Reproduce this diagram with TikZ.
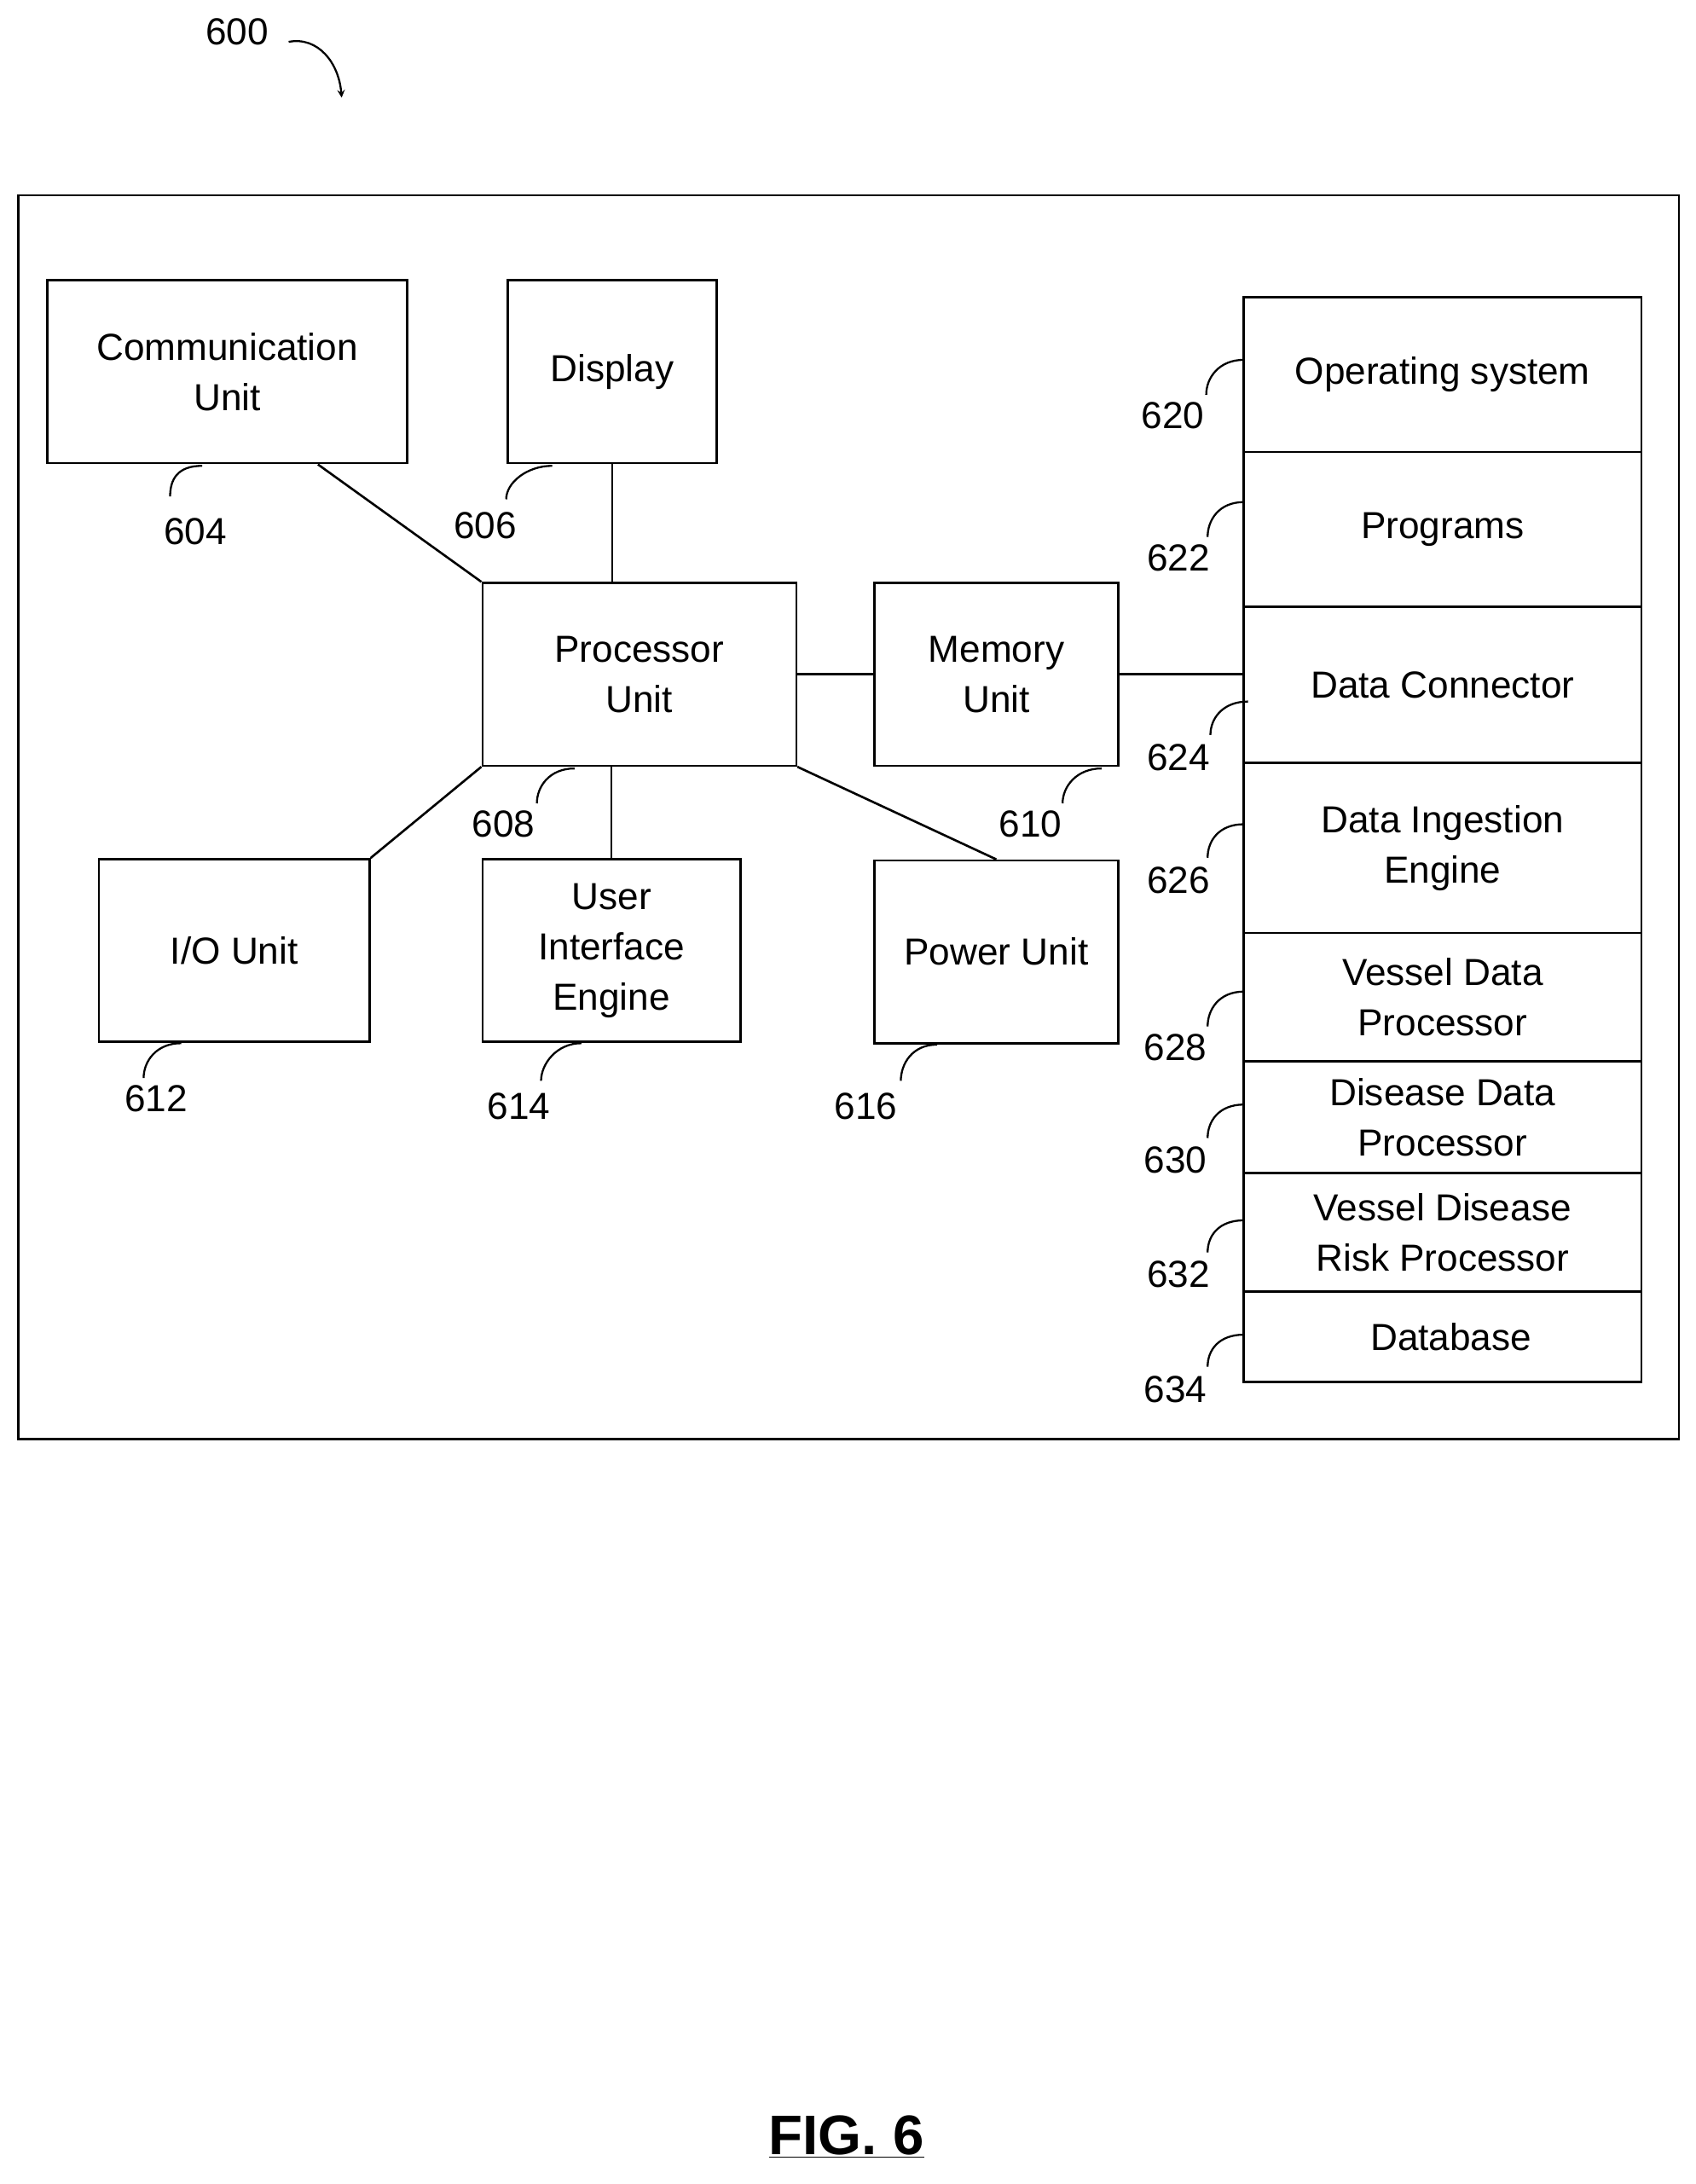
\documentclass[tikz,border=0pt]{standalone}
\usepackage{fontspec}
\setmainfont{Liberation Sans}
\usetikzlibrary{calc}
\begin{document}
\fontsize{27}{36}\selectfont
\begin{tikzpicture}[x=1pt,y=-1pt,
 box/.style={draw,line width=1.6pt,align=center,inner sep=0pt,font=\fontsize{27}{36}\selectfont},
 lab/.style={font=\fontsize{27}{32}\selectfont},
 ln/.style={line width=1.6pt},
 lead/.style={line width=1.4pt}]
\useasboundingbox (0,0) rectangle (1216,1566);
\node[draw,line width=1.6pt,minimum width=1191pt,minimum height=892pt,inner sep=0pt] (frame) at (608.5,586) {};
\node[box,minimum width=258pt,minimum height=131pt] (comm) at (163,266.5) {Communication\\Unit};
\node[box,minimum width=150pt,minimum height=131pt] (disp) at (439,266.5) {Display};
\node[box,minimum width=225pt,minimum height=131pt] (proc) at (458.5,483.5) {Processor\\Unit};
\node[box,minimum width=175pt,minimum height=131pt] (mem) at (714.5,483.5) {Memory\\Unit};
\node[box,minimum width=194pt,minimum height=131pt] (io) at (168,681.5) {I/O Unit};
\node[box,minimum width=185pt,minimum height=131pt] (ui) at (438.5,681.5) {User\\Interface\\Engine};
\node[box,minimum width=175pt,minimum height=131pt] (pow) at (714.5,682.5) {Power Unit};
\node[box,minimum width=285pt,minimum height=111pt] (s1) at (1034.5,268.5) {Operating system};
\node[box,minimum width=285pt,minimum height=111pt] (s2) at (1034.5,379.5) {Programs};
\node[box,minimum width=285pt,minimum height=112pt] (s3) at (1034.5,491) {Data Connector};
\node[box,minimum width=285pt,minimum height=122pt] (s4) at (1034.5,608) {Data Ingestion\\Engine};
\node[box,minimum width=285pt,minimum height=92pt] (s5) at (1034.5,715) {Vessel Data\\Processor};
\node[box,minimum width=285pt,minimum height=80pt] (s6) at (1034.5,801) {Disease Data\\Processor};
\node[box,minimum width=285pt,minimum height=85pt] (s7) at (1034.5,883.5) {Vessel Disease\\Risk Processor};
\node[box,minimum width=285pt,minimum height=65pt] (s8) at (1034.5,958.5) {\hspace*{12pt}Database};
\coordinate (c1) at (228,333);
\draw[ln] (c1) -- (proc.north west);
\draw[ln] (disp.south) -- (disp.south |- proc.north);
\draw[ln] (proc.east) -- (mem.west);
\draw[ln] (mem.east) -- (mem.east -| s3.west);
\draw[ln] (proc.south west) -- (io.north east);
\draw[ln] (ui.north |- proc.south) -- (ui.north);
\draw[ln] (proc.south east) -- (pow.north);
% labels
\newcommand\lbl[5]{\node[lab] (#1) at (#2) {#3};
 \draw[lead] (#4) .. controls ($(#4)+(-18,0)$) and ($(#5)+(0,-12)$) .. (#5);}
\lbl{l604}{140,381}{604}{145,334}{122,356}
\lbl{l606}{348,377}{606}{396,334}{363,358}
\lbl{l608}{361,591}{608}{412,551}{385,576}
\lbl{l610}{739,591}{610}{790,551}{762,576}
\lbl{l612}{112,788}{612}{130,748}{103,773}
\lbl{l614}{372,793}{614}{417,748}{388,775}
\lbl{l616}{621,793}{616}{672,749}{646,775}
\lbl{l620}{841,298}{620}{892,258}{865,283}
\lbl{l622}{845,400}{622}{892,360}{866,385}
\lbl{l624}{845,543}{624}{895,503}{868,527}
\lbl{l626}{845,631}{626}{892,591}{866,615}
\lbl{l628}{843,751}{628}{892,711}{866,736}
\lbl{l630}{843,832}{630}{892,792}{866,816}
\lbl{l632}{845,914}{632}{892,875}{866,898}
\lbl{l634}{843,996}{634}{892,957}{866,980}
\node[lab] (l600) at (170,23) {600};
\coordinate (a600) at (245,70);
\draw[lead,-stealth] (207,30) .. controls (228,26) and (243,45) .. (a600);
\node[font=\fontsize{40}{44}\selectfont\bfseries] (fig) at (607,1532) {\underline{FIG. 6}};
\end{tikzpicture}
\end{document}
